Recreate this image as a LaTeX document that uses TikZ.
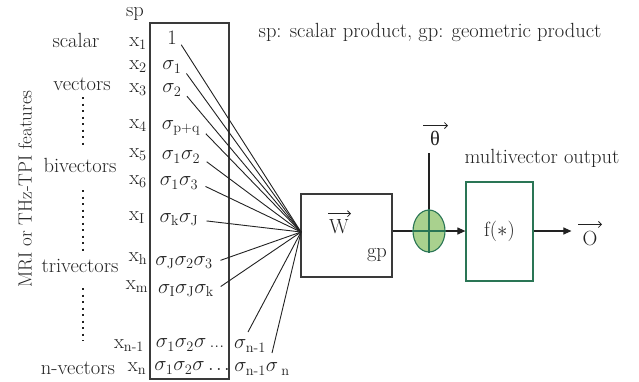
\documentclass[tikz,border=0pt]{standalone}
\usepackage{amsmath}
\usepackage{fontspec}
\newfontfamily\grkfont{Liberation Serif}
\usetikzlibrary{shapes.geometric,arrows.meta,calc}
\definecolor{dgreen}{HTML}{2A7555}
\definecolor{lgreen}{HTML}{A9D18E}
\definecolor{boxgray}{HTML}{3A3A3A}
\definecolor{ink}{HTML}{222222}
\begin{document}
\begin{tikzpicture}[x=1pt,y=-1pt,
  every node/.style={font=\fontsize{20.5}{24}\selectfont, inner sep=0pt, text=ink},
  blk/.style={draw=boxgray, line width=1.3pt},
  feed/.style={draw=ink, line width=0.9pt, shorten <=8pt},
  flow/.style={draw=ink, line width=1.1pt},
  arr/.style={flow, -{Triangle[length=8pt,width=7pt]}},
  vecarr/.style={draw=ink, line width=0.8pt, -{Straight Barb[length=3pt,width=6pt]}},
  dotcol/.style={draw=ink, line width=2pt, dash pattern=on 2pt off 4.5pt}]
\useasboundingbox (0,0) rectangle (639,381);

% main input box
\node[blk, minimum width=79pt, minimum height=356pt] (mainbox) at (189.5,201) {};

% category labels
\node (sp) at (135,14) {sp};
\node (scalar) at (76,40) {scalar};
\node (vectors) at (82,84) {vectors};
\node (bivectors) at (80,165) {bivectors};
\node (trivectors) at (80,266) {trivectors};
\node (nvectors) at (78,368) {n-vectors};
\node[rotate=90, font=\fontsize{19}{22}\selectfont] (feat) at (25,189) {MRI or THz-TPI features};
\draw[dotcol] (83,97) -- (83,146);
\draw[dotcol] (83,190) -- (83,253);
\draw[dotcol] (83,288) -- (83,341);

% x labels
\node (x1) at (138,44) {$\mathrm{x}_1$};
\node (x2) at (138,67) {$\mathrm{x}_2$};
\node (x3) at (138,90) {$\mathrm{x}_3$};
\node (x4) at (138,126) {$\mathrm{x}_4$};
\node (x5) at (138,155) {$\mathrm{x}_5$};
\node (x6) at (138,182) {$\mathrm{x}_6$};
\node (xI) at (137,218) {$\mathrm{x}_{\mathrm{I}}$};
\node (xh) at (138,259) {$\mathrm{x}_{\mathrm{h}}$};
\node (xm) at (137,287) {$\mathrm{x}_{\mathrm{m}}$};
\node (xn1) at (129,346) {$\mathrm{x}_{\text{n-1}}$};
\node (xn) at (137,369) {$\mathrm{x}_{\mathrm{n}}$};

% basis labels
\node (s1) at (172,38) {1};
\node (s2) at (172,67) {$\sigma_1$};
\node (s3) at (172,90) {$\sigma_2$};
\node (s4) at (181,128) {$\sigma_{\mathrm{p+q}}$};
\node (s5) at (181,157) {$\sigma_1\sigma_2$};
\node (s6) at (179,183) {$\sigma_1\sigma_3$};
\node (sI) at (179,220) {$\sigma_{\mathrm{k}}\sigma_{\mathrm{J}}$};
\node (sh) at (184,263) {$\sigma_{\mathrm{J}}\sigma_2\sigma_3$};
\node (sm) at (186,291) {$\sigma_{\mathrm{I}}\sigma_{\mathrm{J}}\sigma_{\mathrm{k}}$};
\node[font=\fontsize{19.5}{23}\selectfont] (sn1) at (190,345) {$\sigma_1\sigma_2\sigma$\,...};
\node[font=\fontsize{19.5}{23}\selectfont] (sn) at (192,368) {$\sigma_1\sigma_2\sigma\,.\!\;.\!\;.$};
\node (r1) at (250,346) {$\sigma_{\text{n-1}}$};
\node (r2) at (262,369) {$\sigma_{\text{n-1}}\sigma_{\;\mathrm{n}}$};
\coordinate (r1tip) at (248,332);
\coordinate (r2tip) at (272,353);

% weight box and convergence point
\node[blk, minimum width=91pt, minimum height=83pt] (wbox) at (346.5,235.5) {};
\coordinate (conv) at (301,232);
\node (W) at (339,227) {W};
\draw[vecarr] ($(W.north)+(-11,-6)$) -- ($(W.north)+(12,-6)$);
\node (gp) at (377,255) {gp};

\foreach \s in {s1,s2,s3,s4,s5,s6,sI,sh,sm}
  \draw[feed] (\s.east) -- (conv);
\draw[feed, shorten <=0pt] (r1tip) -- (conv);
\draw[feed, shorten <=0pt] (r2tip) -- (conv);

% title
\node (title) at (430,32) {sp: scalar product, gp: geometric product};

% summation
\node[ellipse, draw=dgreen, fill=lgreen, line width=1.1pt, minimum width=32pt, minimum height=42pt] (circ) at (429,231) {};
\draw[dgreen, line width=1.1pt] (circ.north) -- (circ.south);
\draw[dgreen, line width=1.1pt] (circ.west) -- (circ.east);
\node[font=\grkfont\fontsize{20.5}{24}\selectfont] (theta) at (435,138) {θ};
\draw[vecarr] ($(theta.north)+(-12,-5)$) -- ($(theta.north)+(13,-5)$);
\draw[flow, shorten <=8pt] (theta.south -| circ.north) -- (circ.north);
\draw[flow] (circ.west -| wbox.east) -- (circ.west);

% activation
\node[draw=dgreen, line width=1.2pt, minimum width=67pt, minimum height=99pt] (fbox) at (499.5,231.5) {f($\ast$)};
\node (mvout) at (542,158) {multivector output};
\draw[arr] (circ.east) -- (circ.east -| fbox.west);
\node (O) at (590,238) {O};
\draw[vecarr] ($(O.north)+(-12,-6)$) -- ($(O.north)+(12,-6)$);
\draw[arr, shorten >=11pt] (fbox.east |- circ.east) -- (O.west |- circ.east);
\end{tikzpicture}
\end{document}
